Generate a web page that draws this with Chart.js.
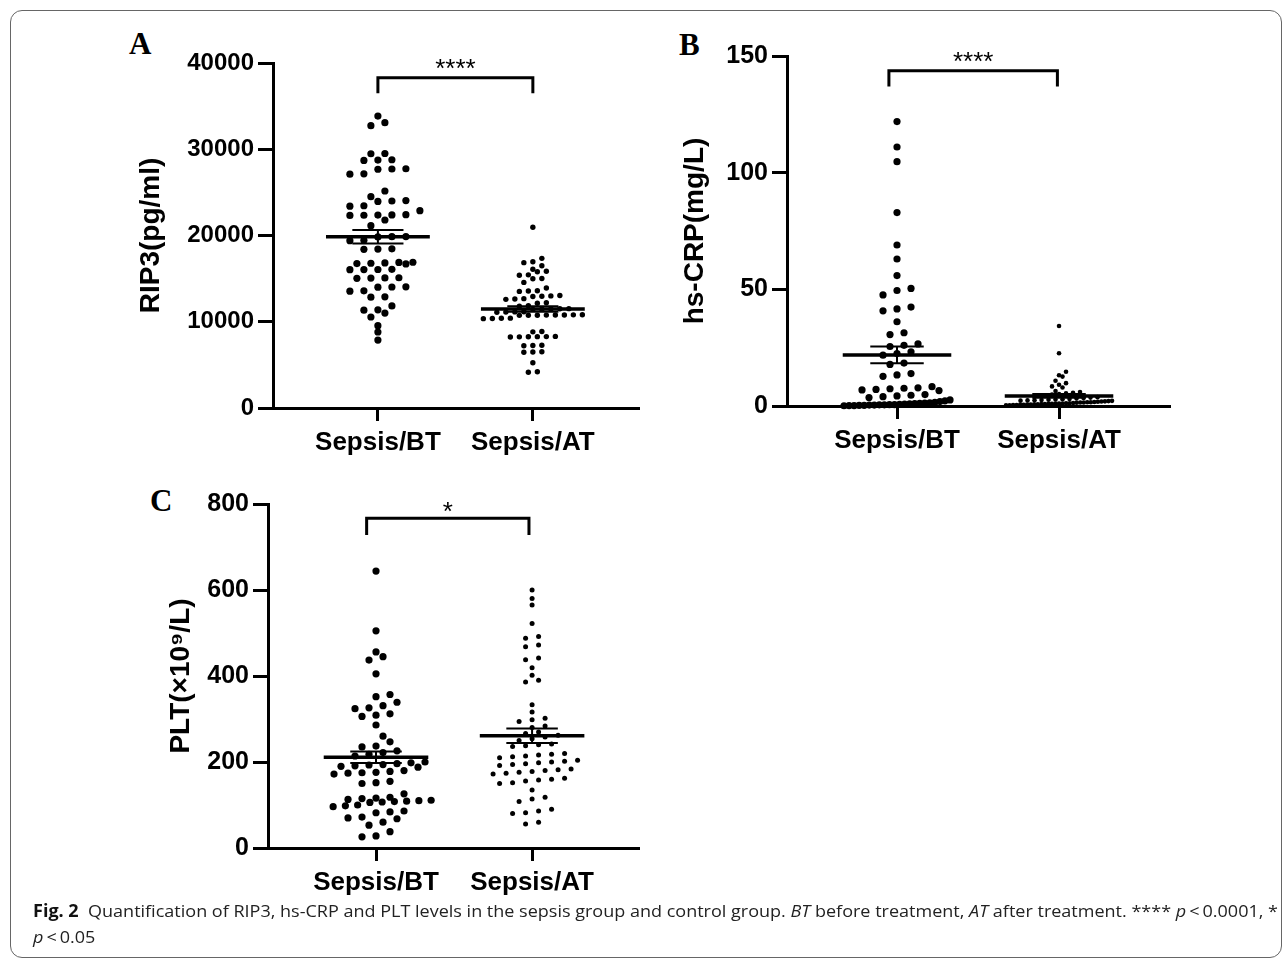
<!DOCTYPE html>
<html>
<head>
<meta charset="utf-8">
<script src="https://cdn.jsdelivr.net/npm/chart.js@4.4.1/dist/chart.umd.min.js"></script>
<style>
  body { margin: 0; background: #fff; width: 1284px; height: 960px; position: relative; overflow: hidden; }
  .frame { position: absolute; left: 10px; top: 10px; width: 1272px; height: 948px; border: 1px solid #666; border-radius: 12px; box-sizing: border-box; }
  .panel { position: absolute; }
  .letter { position: absolute; font: bold 31px "Liberation Serif", "Times New Roman", serif; color: #000; line-height: 1; }
  .caption { position: absolute; left: 33px; top: 898px; font: 17px "Open Sans", sans-serif; color: #222; line-height: 26px; white-space: nowrap; }
  .caption b { font-weight: 700; color: #111; }
  #cap1, #cap2 { transform-origin: 0 50%; display: inline-block; }
</style>
</head>
<body>
<div class="frame"></div>

<div class="letter" style="left:129px;top:28px">A</div>
<div class="letter" style="left:679px;top:29px">B</div>
<div class="letter" style="left:150px;top:485px">C</div>

<div class="panel" style="left:120px;top:30px"><canvas id="chartA" width="540" height="440"></canvas></div>
<div class="panel" style="left:650px;top:25px"><canvas id="chartB" width="540" height="445"></canvas></div>
<div class="panel" style="left:120px;top:470px"><canvas id="chartC" width="540" height="440"></canvas></div>

<div class="caption">
  <div id="cap1"><b>Fig. 2</b>&nbsp; Quantification of RIP3, hs-CRP and PLT levels in the sepsis group and control group. <i>BT</i> before treatment, <i>AT</i> after treatment. **** <i>p</i>&thinsp;&lt;&thinsp;0.0001, *</div><br>
  <div id="cap2"><i>p</i>&thinsp;&lt;&thinsp;0.05</div>
</div>

<script>
// groups on the x axis
const categories = ['Sepsis/BT', 'Sepsis/AT'];

// RIP3 (pg/ml)
const rip3BT = [33850, 33080, 32730, 29510, 29480, 28780, 28750, 28700, 27740, 27710, 27680, 27150, 27110,
  25160, 24500, 24050, 24000, 23950, 23450, 23400, 22880, 22420, 22390, 22370, 22350, 22330, 21800, 21140,
  19880, 19860, 19840, 19440, 19400, 18460, 18430, 18400, 16900, 16750, 16820, 16700, 16880, 16780,
  16080, 16060, 16050, 16040, 15100, 15080, 15060, 15040, 14050, 14030, 14010, 13580, 13550, 12890, 12850,
  11830, 11380, 11340, 11010, 10550, 9540, 8810, 7880];
const rip3AT = [20950, 17350, 16950, 16850, 16500, 16080, 15860, 15800, 15440, 15400, 15020, 14980, 14560,
  13920, 13600, 13560, 13520, 13050, 13000, 12960, 12920, 12680, 12640, 12600, 12200, 12150, 11850, 11800,
  11520, 11500, 11480, 11460, 11440, 11160, 11140, 11120, 11100, 10820, 10800, 10790, 10780, 10770, 10760,
  10750, 10740, 10420, 10400, 10380, 10360, 8870, 8830, 8300, 8280, 8270, 8260, 8250, 8240, 7280, 7250, 7220,
  6520, 6490, 6460, 5250, 4200, 4150];
const rip3Mean = [19860, 11480];
const rip3Sem = [775, 330];

// hs-CRP (mg/L)
const crpBT = [121.9, 111, 104.7, 82.9, 69, 63, 55.9, 50.4, 49.5, 47.6, 42.4, 41.6, 40.8, 36.1, 31.4, 30.6,
  26.6, 26, 25.5, 23.2, 22.5, 21.8, 18.4, 17.8, 13.9, 13.3, 12.7, 8.3, 7.8, 7.6, 7.4, 7.1, 6.9, 6.6, 4.9, 4.6,
  4.3, 4, 3.6, 2.6, 2.2, 1.9, 1.6, 1.4, 1.2, 1.1, 1.0, 0.9, 0.8, 0.7, 0.6, 0.6, 0.5, 0.5, 0.4, 0.4, 0.3, 0.3,
  0.2, 0.2, 0.1];
const crpAT = [34.3, 22.6, 14.7, 13.2, 12.6, 10.8, 9.8, 9.1, 8.4, 7.9, 6.4, 6.0, 5.7, 5.4, 5.1, 4.9, 4.6, 4.4,
  3.8, 3.6, 3.4, 3.2, 3.0, 2.9, 2.8, 2.7, 2.6, 2.5, 2.4, 2.3, 2.2, 2.1, 2.0, 1.9, 1.8, 1.7, 1.6, 1.6, 1.5, 1.5,
  1.4, 1.3, 1.2, 1.2, 1.1, 1.0, 1.0, 0.9, 0.9, 0.8, 0.8, 0.7, 0.7, 0.6, 0.6, 0.5, 0.5, 0.4, 0.4, 0.3, 0.3];
const crpMean = [21.9, 4.3];
const crpSem = [3.6, 0.8];

// PLT (x10^9/L)
const pltBT = [644, 505, 456, 445, 437, 405, 357, 352, 339, 331, 326, 324, 312, 309, 306, 286, 260, 247, 237,
  235, 226, 222, 218, 214, 200, 198, 196, 194, 193, 191, 190, 188, 180, 178, 176, 175, 174, 172, 155, 152, 150,
  126, 118, 116, 115, 113, 111, 110, 109, 108, 107, 106, 100, 98, 96, 86, 84, 82, 72, 70, 68, 60, 53, 38, 28, 26];
const pltAT = [600, 580, 565, 522, 492, 488, 472, 468, 442, 438, 419, 402, 390, 386, 333, 316, 302, 298, 294,
  284, 280, 270, 266, 262, 258, 254, 250, 242, 240, 238, 236, 220, 218, 216, 214, 212, 210, 204, 202, 200, 198,
  196, 194, 192, 184, 182, 180, 178, 176, 174, 172, 162, 160, 158, 156, 152, 150, 135, 118, 114, 108, 90, 86,
  82, 80, 60, 56];
const pltMean = [211, 261];
const pltSem = [13.5, 17];

// y axis ranges / ticks
const rip3Ticks = [0, 10000, 20000, 30000, 40000];
const crpTicks = [0, 50, 100, 150];
const pltTicks = [0, 200, 400, 600, 800];
const significance = ['****', '****', '*'];

Chart.defaults.font.family = '"Liberation Sans", Arial, sans-serif';
Chart.defaults.color = '#000';

const sigPlugin = {
  id: 'sig',
  afterDatasetsDraw(chart, args, o) {
    const { ctx, scales: { x, y } } = chart;
    ctx.save();
    ctx.font = '26px "Liberation Sans", Arial, sans-serif';
    ctx.textAlign = 'center';
    ctx.textBaseline = 'alphabetic';
    ctx.fillStyle = '#000';
    ctx.fillText(o.text, x.getPixelForValue((o.left + o.right) / 2), y.getPixelForValue(o.top) + o.dy);
    ctx.restore();
  }
};

// mean line + SEM whiskers for both groups
function summaryData(mean, sem) {
  const m = [], s = [];
  mean.forEach((v, i) => {
    const g = i + 1, hi = v + sem[i], lo = v - sem[i];
    m.push({ x: g - 0.335, y: v }, { x: g + 0.335, y: v }, { x: g, y: null });
    s.push({ x: g - 0.165, y: hi }, { x: g + 0.165, y: hi }, { x: g, y: null },
           { x: g, y: hi }, { x: g, y: lo }, { x: g, y: null },
           { x: g - 0.165, y: lo }, { x: g + 0.165, y: lo }, { x: g, y: null });
  });
  return [m, s];
}

// prism-like scatter: points in horizontal rows, rows built in pixel space
function swarm(chart, g, values, st) {
  const xs = chart.scales.x, ys = chart.scales.y;
  const cx = xs.getPixelForValue(g);
  const order = values.map((v, i) => i).sort((a, b) => values[a] - values[b]);
  const rows = [];
  let cur = null;
  order.forEach(i => {
    const py = ys.getPixelForValue(values[i]);
    if (!cur || cur.start - py >= st.bin) { cur = { start: py, end: py, idx: [] }; rows.push(cur); }
    cur.idx.push(i);
    cur.end = py;
  });
  const pts = new Array(values.length);
  let prev = null;
  rows.forEach(r => {
    const n = r.idx.length;
    const s = n > 1 ? Math.min(st.gap, 2 * st.half / (n - 1)) : st.gap;
    let shift = 0;
    if (prev && prev.end - r.start < st.bin && prev.n % 2 === n % 2) shift = prev.shift ? 0 : s / 2;
    r.idx.forEach((i, k) => {
      const off = (k - (n - 1) / 2) * s + shift;
      pts[i] = { x: xs.getValueForPixel(cx + off), y: values[i] };
    });
    prev = { end: r.end, n, shift };
  });
  return pts;
}

function makePanel(id, p) {
  const [meanPts, semPts] = summaryData(p.mean, p.sem);
  const b = p.bracket;
  const line = (data, w) => ({ data, showLine: true, borderColor: '#000', borderWidth: w, pointRadius: 0, clip: false });
  const dots = (vals, g, r) => ({ data: vals.map(v => ({ x: g, y: v })), backgroundColor: '#000', borderWidth: 0, pointRadius: r, clip: false });

  const chart = new Chart(document.getElementById(id), {
    type: 'scatter',
    data: {
      datasets: [
        line(meanPts, 3.5),
        line(semPts, 2),
        line([{ x: b.left, y: b.leg }, { x: b.left, y: b.top }, { x: b.right, y: b.top }, { x: b.right, y: b.leg }], 3),
        dots(p.bt, 1, p.styles[0].r),
        dots(p.at, 2, p.styles[1].r)
      ]
    },
    options: {
      responsive: false,
      animation: false,
      devicePixelRatio: 1,
      layout: { padding: { top: p.padTop, right: p.padRight, left: 0, bottom: 0 } },
      plugins: { legend: { display: false }, tooltip: { enabled: false },
                 sig: { text: p.sig, left: b.left, right: b.right, top: b.top, dy: p.sigDy } },
      scales: {
        x: {
          type: 'linear', min: p.xMin, max: 2.685,
          afterBuildTicks: s => { s.ticks = [{ value: 1 }, { value: 2 }]; },
          afterFit: s => { s.height = p.xHeight; },
          ticks: { callback: v => categories[Math.round(v) - 1], font: { size: 26, weight: 'bold' },
                   color: '#000', padding: 6, maxRotation: 0, autoSkip: false },
          grid: { drawOnChartArea: false, tickLength: 13, tickWidth: 3, tickColor: '#000' },
          border: { color: '#000', width: 3 }
        },
        y: {
          min: p.ticks[0], max: p.ticks[p.ticks.length - 1],
          afterBuildTicks: s => { s.ticks = p.ticks.map(v => ({ value: v })); },
          afterFit: s => { s.width = p.yWidth; },
          ticks: { callback: v => String(v), font: { size: p.tickSize, weight: 'bold' }, color: '#000', padding: 4 },
          grid: { drawOnChartArea: false, tickLength: 15, tickWidth: 3, tickColor: '#000' },
          border: { color: '#000', width: 3 },
          title: { display: true, text: p.title, color: '#000', font: { size: 28, weight: 'bold' },
                   padding: { top: p.titlePad, bottom: 0 } }
        }
      }
    },
    plugins: [sigPlugin]
  });

  chart.data.datasets[3].data = swarm(chart, 1, p.bt, p.styles[0]);
  chart.data.datasets[4].data = swarm(chart, 2, p.at, p.styles[1]);
  chart.update('none');
  return chart;
}

makePanel('chartA', {
  bt: rip3BT, at: rip3AT, mean: rip3Mean, sem: rip3Sem, ticks: rip3Ticks, title: 'RIP3(pg/ml)',
  sig: significance[0], bracket: { left: 1, right: 2, top: 38300, leg: 36500 }, sigDy: -1,
  xMin: 0.323, padTop: 33, padRight: 21, yWidth: 153, xHeight: 62, titlePad: 14, tickSize: 24,
  styles: [{ r: 3.6, gap: 14, bin: 6, half: 38 }, { r: 2.7, gap: 9, bin: 5, half: 50 }]
});

makePanel('chartB', {
  bt: crpBT, at: crpAT, mean: crpMean, sem: crpSem, ticks: crpTicks, title: 'hs-CRP(mg/L)',
  sig: significance[1], bracket: { left: 0.95, right: 1.99, top: 143.7, leg: 136.9 }, sigDy: -1,
  xMin: 0.321, padTop: 31, padRight: 20, yWidth: 137, xHeight: 64, titlePad: 28, tickSize: 25,
  styles: [{ r: 3.6, gap: 14, bin: 7.5, half: 53 }, { r: 2.3, gap: 7, bin: 4.5, half: 53 }]
});

makePanel('chartC', {
  bt: pltBT, at: pltAT, mean: pltMean, sem: pltSem, ticks: pltTicks, title: 'PLT(×10⁹/L)',
  sig: significance[2], bracket: { left: 0.94, right: 1.98, top: 767, leg: 728 }, sigDy: 2,
  xMin: 0.308, padTop: 34, padRight: 21, yWidth: 148, xHeight: 62, titlePad: 44, tickSize: 25,
  styles: [{ r: 3.6, gap: 14, bin: 7, half: 49 }, { r: 2.5, gap: 13, bin: 6, half: 50 }]
});

// fit the caption to the reference width (condensed face in the original)
const cap1 = document.getElementById('cap1');
const k = 1245 / cap1.getBoundingClientRect().width;
cap1.style.transform = 'scaleX(' + k + ')';
document.getElementById('cap2').style.transform = 'scaleX(' + k + ')';
</script>
</body>
</html>
